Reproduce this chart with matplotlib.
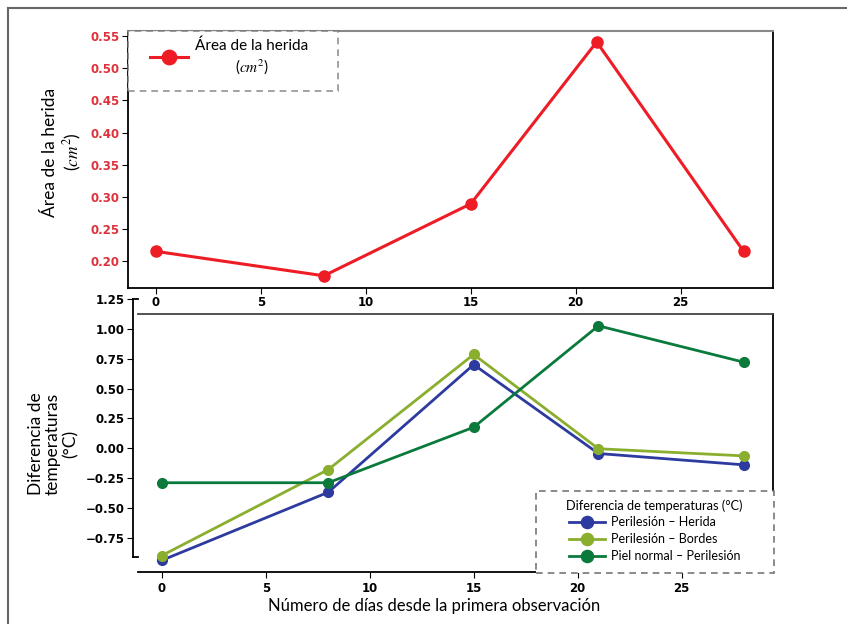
import matplotlib.pyplot as plt
from matplotlib.lines import Line2D
from matplotlib.path import Path

plt.rcParams['mathtext.fontset'] = 'stix'

# Días de observación
dias = [0, 8, 15, 21, 28]

# Área de la herida (cm^2)
area = [0.215, 0.177, 0.289, 0.541, 0.215]

# Diferencias de temperatura (°C)
peri_herida = [-0.94, -0.37, 0.70, -0.045, -0.14]
peri_bordes = [-0.90, -0.18, 0.785, -0.005, -0.065]
piel_peri = [-0.29, -0.29, 0.175, 1.025, 0.72]

y_ticks_area = [0.20, 0.25, 0.30, 0.35, 0.40, 0.45, 0.50, 0.55]
y_ticks_temp = [-0.75, -0.50, -0.25, 0.00, 0.25, 0.50, 0.75, 1.00, 1.25]
x_ticks = [0, 5, 10, 15, 20, 25]

rojo = '#ee1c25'
azul = '#2d3a9f'
verde_claro = '#8aae2e'
verde_osc = '#0a7a3c'

W, H = 847, 624
fig = plt.figure(figsize=(W / 100, H / 100), dpi=100)


def box(x0, y0, x1, y1):
    # pixel box (top-left origin) -> figure fraction rect
    return [x0 / W, 1 - y1 / H, (x1 - x0) / W, (y1 - y0) / H]


def marco(l, r, t, b):
    # legend frame with its own padding (pixels) on each side
    def estilo(x0, y0, width, height, mutation_size):
        x0 -= l
        y0 -= b
        x1 = x0 + width + l + r
        y1 = y0 + height + b + t
        return Path([(x0, y0), (x1, y0), (x1, y1), (x0, y1), (x0, y0)], closed=True)
    return estilo


tick_font = dict(family='DejaVu Sans', weight='bold', size=8.5)
label_font = 'Lato'

# --- Área de la herida ---
ax1 = fig.add_axes(box(128, 31, 773, 288))
ax1.plot(dias, area, color=rojo, lw=2.2, marker='o', ms=8, label='Área de la herida\n($cm^2$)')
ax1.set_xlim(-1.33, 29.4)
ax1.set_ylim(0.158, 0.558)
ax1.set_yticks(y_ticks_area)
ax1.set_yticklabels([f'{v:.2f}' for v in y_ticks_area], color='#e0303a', **tick_font)
ax1.set_xticks(x_ticks)
ax1.set_xticklabels(x_ticks, **tick_font)
ax1.tick_params(length=4, pad=2)
ax1.spines['top'].set_color('#888888')
ax1.spines['top'].set_linewidth(1.5)
for s in ['left', 'bottom', 'right']:
    ax1.spines[s].set_linewidth(1.3)
leg1 = ax1.legend(loc='upper left', bbox_to_anchor=(150 / W, 1 - 38 / H),
                  bbox_transform=fig.transFigure, borderaxespad=0, borderpad=0,
                  fancybox=False, edgecolor='#777777', handlelength=2.5, handletextpad=0.45,
                  prop={'family': label_font, 'size': 11}, markerscale=1.3)
leg1.get_frame().set_boxstyle(marco(22, 30, 7, 15))
leg1.get_frame().set_linestyle((0, (4, 3)))
leg1.get_frame().set_linewidth(1.2)
for t in leg1.get_texts():
    t.set_multialignment('center')
    t.set_linespacing(1.35)

# --- Diferencia de temperaturas ---
ax2 = fig.add_axes(box(138, 314, 773, 572))
ax2.plot(dias, peri_herida, color=azul, lw=2, marker='o', ms=7, label='Perilesión – Herida')
ax2.plot(dias, peri_bordes, color=verde_claro, lw=2, marker='o', ms=7, label='Perilesión – Bordes')
ax2.plot(dias, piel_peri, color=verde_osc, lw=2, marker='o', ms=7, label='Piel normal – Perilesión')
ax2.set_xlim(-1.15, 29.4)
ax2.set_ylim(-1.038, 1.124)
ax2.set_xticks(x_ticks)
ax2.set_xticklabels(x_ticks, **tick_font)
ax2.set_yticks([])
ax2.spines['left'].set_visible(False)
ax2.spines['top'].set_color('#444444')
for s in ['top', 'bottom', 'right']:
    ax2.spines[s].set_linewidth(1.3)
ax2.tick_params(length=4, pad=3)
leg2 = ax2.legend(loc='lower right', bbox_to_anchor=(743 / W, 1 - 562 / H),
                  bbox_transform=fig.transFigure, borderaxespad=0, borderpad=0,
                  fancybox=False, edgecolor='#777777', framealpha=1,
                  title='Diferencia de temperaturas (°C)',
                  title_fontproperties={'family': label_font, 'size': 9.2},
                  prop={'family': label_font, 'size': 9}, handlelength=2.9,
                  handletextpad=0.5, labelspacing=0.38, markerscale=1.25)
leg2.get_frame().set_boxstyle(marco(31, 31, 8, 11))
leg2.get_frame().set_linestyle((0, (4, 3)))
leg2.get_frame().set_linewidth(1.2)

# eje y desplazado de la gráfica inferior
ax3 = fig.add_axes(box(133, 299, 143, 557))
ax3.set_ylim(-0.912, 1.25)
ax3.set_yticks(y_ticks_temp)
ax3.set_yticklabels([f'{v:.2f}'.replace('-', '\u2212') for v in y_ticks_temp], **tick_font)
ax3.set_xticks([])
ax3.patch.set_visible(False)
for s in ['top', 'bottom', 'right']:
    ax3.spines[s].set_visible(False)
ax3.spines['left'].set_linewidth(1.3)
ax3.tick_params(length=4, pad=2)
for yy in (0, 1):
    ax3.plot([0, 0.5], [yy, yy], transform=ax3.transAxes, color='black', lw=1.3, clip_on=False)

# etiquetas
fig.text(63 / W, 1 - 152 / H, 'Área de la herida\n($cm^2$)', rotation=90, ha='center', va='center',
         multialignment='center', family=label_font, size=12.5)
fig.text(53 / W, 1 - 444 / H, 'Diferencia de\ntemperaturas\n(°C)', rotation=90, ha='center', va='center',
         multialignment='center', family=label_font, size=12.5, linespacing=1.1)
fig.text(434 / W, 1 - 606 / H, 'Número de días desde la primera observación', ha='center', va='center',
         family=label_font, size=12)

# marco exterior
fig.add_artist(Line2D([8 / W, 8 / W], [0, 1 - 8 / H], color='#666666', lw=1.5))
fig.add_artist(Line2D([8 / W, 1], [1 - 8 / H, 1 - 8 / H], color='#666666', lw=1.5))

fig.savefig('out.png', dpi=100)
